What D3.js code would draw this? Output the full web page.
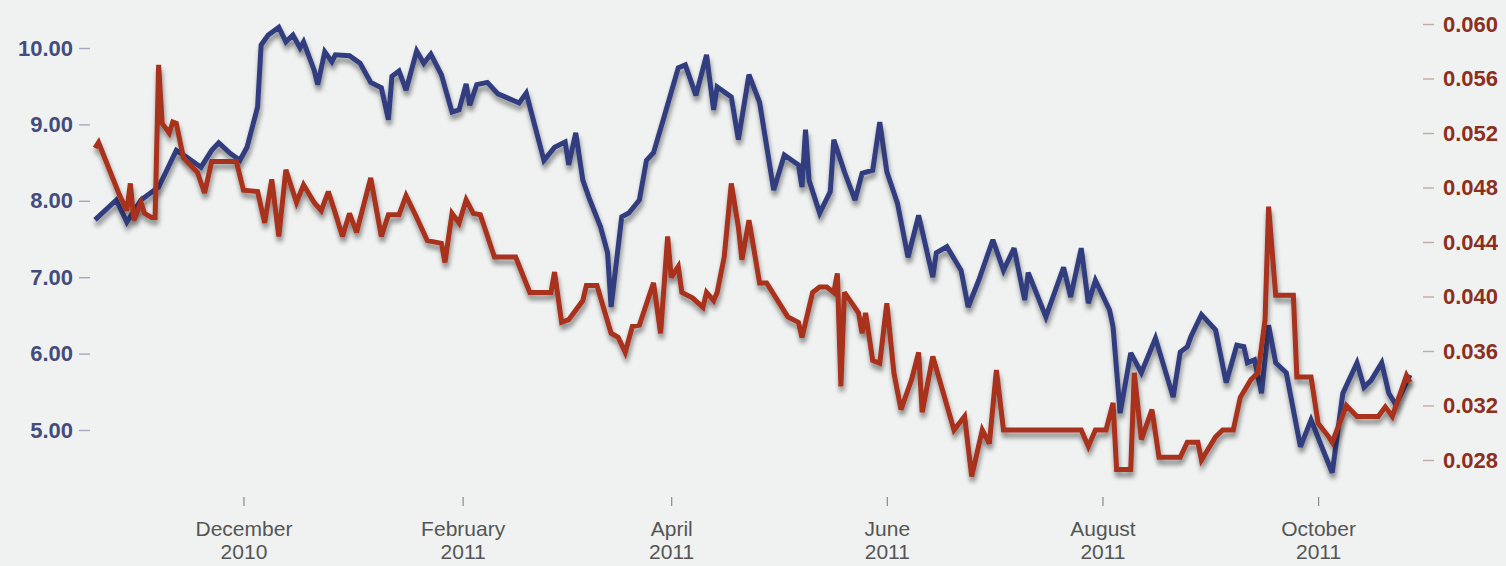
<!DOCTYPE html>
<html>
<head>
<meta charset="utf-8">
<script src="https://cdn.jsdelivr.net/npm/d3@7"></script>
<style>
  body { margin: 0; background: #eff2f1; }
  #chart svg { display: block; }
</style>
</head>
<body>
<div id="chart"></div>
<script>
// blue series (left axis)
const blueDates = [
  "2010-10-20","2010-10-26","2010-10-29","2010-11-02","2010-11-07","2010-11-12","2010-11-15","2010-11-19","2010-11-22","2010-11-24","2010-11-27","2010-11-30",
  "2010-12-02","2010-12-05","2010-12-06","2010-12-08","2010-12-11","2010-12-13","2010-12-15","2010-12-17","2010-12-18","2010-12-21","2010-12-22","2010-12-24","2010-12-26","2010-12-27","2010-12-31",
  "2011-01-03","2011-01-06","2011-01-09","2011-01-11","2011-01-12","2011-01-14","2011-01-16","2011-01-19","2011-01-21","2011-01-23","2011-01-26","2011-01-29","2011-01-31",
  "2011-02-02","2011-02-03","2011-02-05","2011-02-08","2011-02-11","2011-02-13","2011-02-17","2011-02-19","2011-02-24","2011-02-27",
  "2011-03-02","2011-03-03","2011-03-05","2011-03-07","2011-03-09","2011-03-12","2011-03-14","2011-03-15","2011-03-18","2011-03-20","2011-03-23","2011-03-25","2011-03-27","2011-03-30",
  "2011-04-03","2011-04-05","2011-04-08","2011-04-11","2011-04-13","2011-04-14","2011-04-18","2011-04-20","2011-04-23","2011-04-26","2011-04-30",
  "2011-05-03","2011-05-07","2011-05-08","2011-05-09","2011-05-10","2011-05-13","2011-05-16","2011-05-17","2011-05-20","2011-05-23","2011-05-25","2011-05-28","2011-05-30",
  "2011-06-01","2011-06-04","2011-06-07","2011-06-10","2011-06-14","2011-06-15","2011-06-18","2011-06-22","2011-06-24","2011-06-27",
  "2011-07-01","2011-07-04","2011-07-07","2011-07-10","2011-07-11","2011-07-16","2011-07-19","2011-07-21","2011-07-23","2011-07-26","2011-07-28","2011-07-30",
  "2011-08-03","2011-08-04","2011-08-06","2011-08-09","2011-08-12","2011-08-16","2011-08-21","2011-08-23","2011-08-25","2011-08-26","2011-08-29",
  "2011-09-02","2011-09-05","2011-09-08","2011-09-10","2011-09-11","2011-09-13","2011-09-15","2011-09-17","2011-09-19","2011-09-22","2011-09-26","2011-09-29",
  "2011-10-05","2011-10-08","2011-10-12","2011-10-14","2011-10-16","2011-10-19","2011-10-21","2011-10-23","2011-10-27"
];
const blueValues = [
  7.75, 8.01, 7.72, 8.01, 8.18, 8.66, 8.57, 8.44, 8.66, 8.76, 8.63, 8.53,
  8.70, 9.23, 10.04, 10.17, 10.27, 10.08, 10.17, 10.00, 10.08, 9.71, 9.52, 9.95, 9.82, 9.91, 9.90,
  9.80, 9.55, 9.48, 9.06, 9.63, 9.70, 9.45, 9.96, 9.80, 9.92, 9.65, 9.16, 9.19,
  9.53, 9.25, 9.52, 9.55, 9.40, 9.36, 9.28, 9.41, 8.53, 8.70,
  8.77, 8.47, 8.89, 8.27, 8.01, 7.66, 7.32, 6.61, 7.79, 7.84, 8.01, 8.53, 8.63, 9.10,
  9.74, 9.78, 9.38, 9.91, 9.19, 9.49, 9.36, 8.80, 9.65, 9.29, 8.14,
  8.60, 8.47, 8.18, 8.93, 8.27, 7.84, 8.12, 8.80, 8.38, 8.01, 8.36, 8.40, 9.03,
  8.38, 7.97, 7.26, 7.81, 7.00, 7.32, 7.40, 7.09, 6.61, 6.96,
  7.49, 7.09, 7.38, 6.70, 7.06, 6.48, 6.87, 7.13, 6.74, 7.38, 6.66, 6.96,
  6.57, 6.35, 5.22, 6.01, 5.75, 6.20, 5.43, 6.02, 6.09, 6.22, 6.51,
  6.31, 5.62, 6.11, 6.09, 5.88, 5.92, 5.48, 6.37, 5.88, 5.75, 4.78, 5.13,
  4.44, 5.48, 5.88, 5.56, 5.65, 5.88, 5.48, 5.33, 5.72
];

// red series (right axis)
const redDates = [
  "2010-10-20","2010-10-21","2010-10-27","2010-10-29","2010-10-30","2010-10-31",
  "2010-11-02","2010-11-03","2010-11-05","2010-11-06","2010-11-07","2010-11-08","2010-11-10","2010-11-11","2010-11-12","2010-11-14","2010-11-18","2010-11-20","2010-11-22","2010-11-29",
  "2010-12-01","2010-12-05","2010-12-07","2010-12-09","2010-12-11","2010-12-13","2010-12-16","2010-12-18","2010-12-21","2010-12-23","2010-12-25","2010-12-27","2010-12-29","2010-12-31",
  "2011-01-02","2011-01-06","2011-01-09","2011-01-11","2011-01-14","2011-01-16","2011-01-19","2011-01-22","2011-01-26","2011-01-27","2011-01-29","2011-01-31",
  "2011-02-02","2011-02-04","2011-02-06","2011-02-10","2011-02-16","2011-02-20","2011-02-26","2011-02-27",
  "2011-03-01","2011-03-03","2011-03-07","2011-03-08","2011-03-11","2011-03-15","2011-03-17","2011-03-19","2011-03-21","2011-03-23","2011-03-27","2011-03-29","2011-03-31",
  "2011-04-01","2011-04-03","2011-04-04","2011-04-07","2011-04-10","2011-04-11","2011-04-13","2011-04-14","2011-04-16","2011-04-18","2011-04-20","2011-04-21","2011-04-23","2011-04-26","2011-04-28",
  "2011-05-04","2011-05-07","2011-05-08","2011-05-11","2011-05-13","2011-05-15","2011-05-17","2011-05-18","2011-05-19","2011-05-20","2011-05-24","2011-05-25","2011-05-26","2011-05-28","2011-05-30",
  "2011-06-01","2011-06-03","2011-06-05","2011-06-08","2011-06-10","2011-06-11","2011-06-14","2011-06-17","2011-06-20","2011-06-23","2011-06-25","2011-06-28","2011-06-30",
  "2011-07-02","2011-07-04","2011-07-26","2011-07-28","2011-07-30",
  "2011-08-02","2011-08-04","2011-08-05","2011-08-09","2011-08-10","2011-08-12","2011-08-15","2011-08-17","2011-08-23","2011-08-25","2011-08-28","2011-08-29",
  "2011-09-02","2011-09-04","2011-09-07","2011-09-09","2011-09-12","2011-09-14","2011-09-16","2011-09-17","2011-09-19","2011-09-24","2011-09-25","2011-09-29",
  "2011-10-01","2011-10-04","2011-10-05","2011-10-09","2011-10-12","2011-10-18","2011-10-20","2011-10-22","2011-10-26","2011-10-27"
];
const redValues = [
  0.0509, 0.0513, 0.0474, 0.0463, 0.0483, 0.0456,
  0.0469, 0.0461, 0.0458, 0.0458, 0.0570, 0.0527, 0.0520, 0.0528, 0.0527, 0.0502, 0.0491, 0.0476, 0.0499, 0.0499,
  0.0478, 0.0477, 0.0454, 0.0486, 0.0444, 0.0493, 0.0469, 0.0482, 0.0469, 0.0463, 0.0477, 0.0461, 0.0444, 0.0461,
  0.0447, 0.0487, 0.0444, 0.0460, 0.0460, 0.0474, 0.0458, 0.0441, 0.0439, 0.0425, 0.0461, 0.0454,
  0.0471, 0.0461, 0.0460, 0.0429, 0.0429, 0.0403, 0.0403, 0.0418,
  0.0381, 0.0383, 0.0397, 0.0408, 0.0408, 0.0373, 0.0370, 0.0359, 0.0378, 0.0379, 0.0410, 0.0373, 0.0444,
  0.0414, 0.0422, 0.0403, 0.0399, 0.0392, 0.0403, 0.0397, 0.0403, 0.0429, 0.0483, 0.0451, 0.0427, 0.0456, 0.0410, 0.0410,
  0.0385, 0.0381, 0.0370, 0.0403, 0.0407, 0.0407, 0.0403, 0.0417, 0.0334, 0.0403, 0.0388, 0.0373, 0.0388, 0.0353, 0.0351,
  0.0395, 0.0344, 0.0317, 0.0339, 0.0359, 0.0315, 0.0356, 0.0329, 0.0302, 0.0312, 0.0268, 0.0302, 0.0292,
  0.0346, 0.0302, 0.0302, 0.0290, 0.0302,
  0.0302, 0.0322, 0.0273, 0.0273, 0.0344, 0.0295, 0.0317, 0.0282, 0.0282, 0.0293, 0.0293, 0.0280,
  0.0297, 0.0302, 0.0302, 0.0326, 0.0339, 0.0344, 0.0383, 0.0466, 0.0401, 0.0401, 0.0341, 0.0341,
  0.0307, 0.0297, 0.0293, 0.0320, 0.0312, 0.0312, 0.0319, 0.0312, 0.0342, 0.0337
];

const leftTicks = [5, 6, 7, 8, 9, 10];
const rightTicks = [0.028, 0.032, 0.036, 0.040, 0.044, 0.048, 0.052, 0.056, 0.060];
const monthTicks = ["2010-12-01", "2011-02-01", "2011-04-01", "2011-06-01", "2011-08-01", "2011-10-01"];

const parseDate = d3.timeParse("%Y-%m-%d");
const blue = blueDates.map((d, i) => ({ date: parseDate(d), value: blueValues[i] }));
const red = redDates.map((d, i) => ({ date: parseDate(d), value: redValues[i] }));

const svgWidth = 1506, svgHeight = 566;
const svg = d3.select("#chart").append("svg")
    .attr("width", svgWidth)
    .attr("height", svgHeight)
    .style("background", "#eff2f1");

// soft drop shadow under the lines
const defs = svg.append("defs");
const shadow = defs.append("filter").attr("id", "shadow")
    .attr("x", "-5%").attr("y", "-20%").attr("width", "110%").attr("height", "140%");
shadow.append("feGaussianBlur").attr("in", "SourceAlpha").attr("stdDeviation", 2.8).attr("result", "blur");
shadow.append("feOffset").attr("in", "blur").attr("dx", 1).attr("dy", 5).attr("result", "off");
shadow.append("feComponentTransfer").attr("in", "off").attr("result", "soft")
    .append("feFuncA").attr("type", "linear").attr("slope", 0.45);
const merge = shadow.append("feMerge");
merge.append("feMergeNode").attr("in", "soft");
merge.append("feMergeNode").attr("in", "SourceGraphic");

const x = d3.scaleTime()
    .domain([parseDate("2010-10-20"), parseDate("2011-10-27")])
    .range([95, 1410]);
const yLeft = d3.scaleLinear().domain([5, 10]).range([430, 48]);
const yRight = d3.scaleLinear().domain([0.028, 0.060]).range([460, 24]);

// left axis
const gLeft = svg.append("g")
    .attr("transform", "translate(90,0)")
    .call(d3.axisLeft(yLeft).tickValues(leftTicks).tickFormat(d3.format(".2f")).tickSize(11).tickPadding(6));
gLeft.select(".domain").remove();
gLeft.selectAll("line").attr("stroke", "#a4a9bd").attr("stroke-width", 1.4);
gLeft.selectAll("text")
    .attr("fill", "#434c7c")
    .style("font", "bold 22px 'Liberation Sans', Arial, sans-serif");

// right axis
const gRight = svg.append("g")
    .attr("transform", "translate(1423,0)")
    .call(d3.axisRight(yRight).tickValues(rightTicks).tickFormat(d3.format(".3f")).tickSize(11).tickPadding(9));
gRight.select(".domain").remove();
gRight.selectAll("line").attr("stroke", "#c4aaa4").attr("stroke-width", 1.4);
gRight.selectAll("text")
    .attr("fill", "#8c2f20")
    .style("font", "bold 22px 'Liberation Sans', Arial, sans-serif");

// bottom axis, two-line month labels
const gBottom = svg.append("g")
    .attr("transform", "translate(0,497)")
    .call(d3.axisBottom(x).tickValues(monthTicks.map(parseDate)).tickSize(9).tickFormat(""));
gBottom.select(".domain").remove();
gBottom.selectAll("line").attr("stroke", "#8a8a8a").attr("stroke-width", 1.2);
const monthName = d3.timeFormat("%B"), yearName = d3.timeFormat("%Y");
gBottom.selectAll(".tick").each(function(d){
    const t = d3.select(this).select("text")
        .attr("y", null).attr("dy", null)
        .attr("fill", "#555")
        .style("font", "21px 'Liberation Sans', Arial, sans-serif");
    t.append("tspan").attr("x", 0).attr("y", 39).text(monthName(d));
    t.append("tspan").attr("x", 0).attr("y", 62).text(yearName(d));
});

const lineLeft = d3.line()
    .x(function(d){return x(d.date)})
    .y(function(d){return yLeft(d.value)});
const lineRight = d3.line()
    .x(function(d){return x(d.date)})
    .y(function(d){return yRight(d.value)});

svg.append("path")
    .datum(blue)
    .attr("d", lineLeft)
    .attr("fill", "none")
    .attr("stroke", "#323e80")
    .attr("stroke-width", 5)
    .attr("stroke-linejoin", "miter")
    .attr("stroke-miterlimit", 3)
    .attr("filter", "url(#shadow)");

svg.append("path")
    .datum(red)
    .attr("d", lineRight)
    .attr("fill", "none")
    .attr("stroke", "#a8301f")
    .attr("stroke-width", 5)
    .attr("stroke-linejoin", "miter")
    .attr("stroke-miterlimit", 3)
    .attr("filter", "url(#shadow)");
</script>
</body>
</html>
